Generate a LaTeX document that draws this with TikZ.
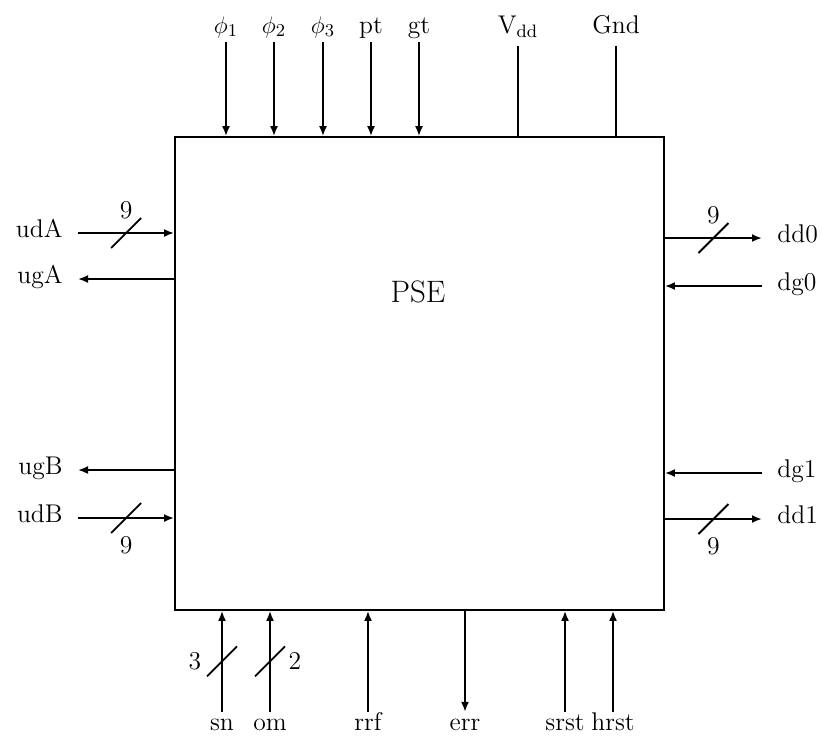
\documentclass[tikz,border=0pt]{standalone}
\usetikzlibrary{positioning, arrows.meta}

\begin{document}
\begin{tikzpicture}[x=0.5pt, y=-0.5pt, font=\fontsize{12.8}{15}\selectfont,
    sig/.style={line width=0.9pt, -{Latex[length=5pt,width=4pt]}},
    bus/.style={sig, line width=1.4pt},
    wire/.style={line width=0.9pt},
    slash/.style={line width=0.9pt},
    toplbl/.style={anchor=base, inner sep=2pt, text height=1.6ex, text depth=0.5ex},
    botlbl/.style={anchor=base, inner sep=2pt, text height=1.6ex, text depth=0.5ex},
    sidelbl/.style={inner xsep=7.5pt, inner ysep=2pt},
    num/.style={inner sep=1pt}]
  \useasboundingbox (0,0) rectangle (822,736);

  % the chip
  \node[draw, line width=0.9pt, minimum width=244.5pt, minimum height=236.5pt,
        inner sep=0pt] (pse) at (419.5,373.5) {};
  \node[font=\fontsize{15.5}{18}\selectfont] (name) at (418,292) {PSE};

  % top inputs
  \foreach \nm/\x/\t in {p1/226/$\phi_1$, p2/274/$\phi_2$, p3/323/$\phi_3$, pt/371/pt, gt/419/gt}{
    \node[toplbl] (\nm) at (\x,33) {\t};
    \draw[sig] (\nm.south) -- (\nm.south |- pse.north);
  }
  \node[toplbl] (vdd) at (518,33) {V$_{\mathrm{dd}}$};
  \node[toplbl] (gnd) at (616,33) {Gnd};
  \draw[wire, shorten <=2pt] (vdd.south) -- (vdd.south |- pse.north);
  \draw[wire, shorten <=2pt] (gnd.south) -- (gnd.south |- pse.north);

  % bottom
  \foreach \nm/\x in {sn/222, om/270, rrf/368, srst/565, hrst/613}{
    \node[botlbl] (\nm) at (\x,730) {\nm};
    \draw[sig] (\nm.north) -- (\nm.north |- pse.south);
  }
  \node[botlbl] (err) at (465,730) {err};
  \draw[sig] (err.north |- pse.south) -- (err.north);
  \path (sn.north) -- (sn.north |- pse.south) coordinate[pos=0.5] (bsn);
  \path (om.north) -- (om.north |- pse.south) coordinate[pos=0.5] (bom);
  \draw[slash] (bsn) ++(-15,15) -- ++(30,-30);
  \draw[slash] (bom) ++(-15,15) -- ++(30,-30);
  \node[num] (nsn) at ([xshift=-13.5pt]bsn) {3};
  \node[num] (nom) at ([xshift=12.5pt]bom) {2};

  % left side
  \node[sidelbl, anchor=mid east] (udA) at (78,233) {udA};
  \node[sidelbl, anchor=mid east] (ugA) at (78,279) {ugA};
  \node[sidelbl, anchor=mid east] (ugB) at (78,470) {ugB};
  \node[sidelbl, anchor=mid east] (udB) at (78,518) {udB};
  \draw[bus] (udA.mid east) -- (udA.mid east -| pse.west) coordinate[pos=0.5] (bA);
  \draw[sig] (ugA.mid east -| pse.west) -- (ugA.mid east);
  \draw[sig] (ugB.mid east -| pse.west) -- (ugB.mid east);
  \draw[bus] (udB.mid east) -- (udB.mid east -| pse.west) coordinate[pos=0.5] (bB);
  \draw[slash] (bA) ++(-15,15) -- ++(30,-30);
  \draw[slash] (bB) ++(-15,15) -- ++(30,-30);
  \node[num] (nA) at ([yshift=11.5pt]bA) {9};
  \node[num] (nB) at ([yshift=-13.5pt]bB) {9};

  % right side
  \node[sidelbl, anchor=mid west] (dd0) at (762,238) {dd0};
  \node[sidelbl, anchor=mid west] (dg0) at (762,286) {dg0};
  \node[sidelbl, anchor=mid west] (dg1) at (762,473) {dg1};
  \node[sidelbl, anchor=mid west] (dd1) at (762,519) {dd1};
  \draw[bus] (dd0.mid west -| pse.east) -- (dd0.mid west) coordinate[pos=0.5] (b0);
  \draw[sig] (dg0.mid west) -- (dg0.mid west -| pse.east);
  \draw[sig] (dg1.mid west) -- (dg1.mid west -| pse.east);
  \draw[bus] (dd1.mid west -| pse.east) -- (dd1.mid west) coordinate[pos=0.5] (b1);
  \draw[slash] (b0) ++(-15,15) -- ++(30,-30);
  \draw[slash] (b1) ++(-15,15) -- ++(30,-30);
  \node[num] (n0) at ([yshift=11.5pt]b0) {9};
  \node[num] (n1) at ([yshift=-13.5pt]b1) {9};
\end{tikzpicture}
\end{document}
